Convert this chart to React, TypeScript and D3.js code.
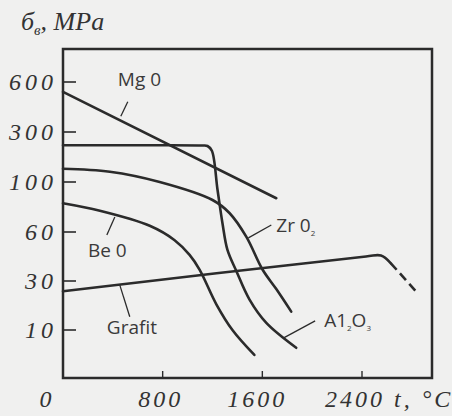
import React from "react";
import * as d3 from "d3";

// ---- data (temperature °C, strength MPa) ----
const yTickValues = [10, 30, 60, 100, 300, 600];
const xTickValues = [0, 800, 1600, 2400];

const mgO: [number, number][] = [[0, 541], [1712, 87]];
const al2o3: [number, number][] = [
  [0, 247], [600, 247], [1120, 246], [1160, 244], [1195, 225], [1240, 94], [1280, 67], [1320, 49],
  [1392, 36], [1496, 22.5], [1632, 12.9], [1872, 6.3],
];
const zrO2: [number, number][] = [
  [0, 153], [376, 141], [776, 100], [1200, 85.6], [1336, 75.2], [1472, 57],
  [1600, 37.2], [1712, 26.7], [1832, 17.5],
];
const beO: [number, number][] = [
  [0, 83], [296, 77], [696, 65], [896, 55], [1016, 46], [1096, 37],
  [1232, 20.4], [1360, 10], [1536, 4.8],
];
const grafitSolid: [number, number][] = [[0, 25.8], [2432, 45], [2552, 45.6], [2630, 41]];
const grafitDashed: [number, number][] = [[2630, 41], [2832, 25.8]];

// annotations: label text anchor and leader line (data coords)
const annotations = [
  { name: "Mg 0", sub: [] as string[], at: [440, 576], from: [520, 482], to: [464, 394] },
  { name: "Be 0", sub: [], at: [200, 44.4], from: [352, 58.2], to: [416, 72] },
  { name: "Grafit", sub: [], at: [352, 9.2], from: [456, 28.3], to: [536, 15.4] },
  { name: "Zr 0", sub: ["2"], at: [1712, 60], from: [1672, 65.6], to: [1488, 56.4] },
  { name: "A1", sub: ["2", "O", "3"], at: [2096, 11.25], from: [2024, 13.75], to: [1768, 8.3] },
];

const W = 452, H = 416;
const frame = { left: 63, right: 432, top: 49, bottom: 378 };

const xScale = d3.scaleLinear().domain([0, 2400]).range([63, 362]);
const yScale = d3
  .scaleLinear()
  .domain([0, ...yTickValues])
  .range([378, 330, 281, 232, 182, 132, 82]);

const line = d3
  .line<[number, number]>()
  .x((d) => xScale(d[0]))
  .y((d) => yScale(d[1]))
  .curve(d3.curveCatmullRom.alpha(0.5));

const ink = "#2b2b2b";
const serif = "'Liberation Serif', 'DejaVu Serif', serif";
const sans = "'Open Sans', 'Noto Sans', sans-serif";

export default function App() {
  const curves = [mgO, al2o3, zrO2, beO, grafitSolid];
  return (
    <svg
      width={W}
      height={H}
      style={{ position: "absolute", left: 0, top: 0, background: "#f0f0ef" }}
    >
      <rect x={0} y={0} width={W} height={H} fill="#f0f0ef" />
      {/* title */}
      <text x={21} y={30} fontFamily={serif} fontStyle="italic" fontSize={26} fill="#333">
        б
        <tspan dy={5} fontSize={15}>в</tspan>
        <tspan dy={-5}>, MPa</tspan>
      </text>

      {/* frame */}
      <rect
        x={frame.left}
        y={frame.top}
        width={frame.right - frame.left}
        height={frame.bottom - frame.top}
        fill="none"
        stroke={ink}
        strokeWidth={2.5}
      />

      {/* y ticks */}
      {yTickValues.map((v) => (
        <g key={v}>
          <line x1={frame.left} x2={frame.left + 13} y1={yScale(v)} y2={yScale(v)} stroke={ink} strokeWidth={1.6} />
          <text
            x={57}
            y={yScale(v) + 8}
            textAnchor="end"
            fontFamily={serif}
            fontStyle="italic"
            fontSize={24}
            letterSpacing={4}
            fill="#333"
          >
            {v}
          </text>
        </g>
      ))}

      {/* x ticks */}
      {xTickValues.map((v) => (
        <g key={v}>
          {v > 0 && (
            <line x1={xScale(v)} x2={xScale(v)} y1={frame.bottom - 7} y2={frame.bottom} stroke={ink} strokeWidth={1.4} />
          )}
          <text
            x={v === 2400 ? xScale(v) - 37 : xScale(v) - (v === 0 ? 16 : v === 800 ? 2 : 5)}
            y={407}
            textAnchor={v === 2400 ? "start" : "middle"}
            fontFamily={serif}
            fontStyle="italic"
            fontSize={24}
            letterSpacing={3}
            fill="#333"
          >
            {v === 2400 ? `${v} t, °C` : v}
          </text>
        </g>
      ))}

      {/* curves */}
      {curves.map((c, i) => (
        <path key={i} d={line(c) || ""} fill="none" stroke={ink} strokeWidth={2.6} strokeLinecap="round" />
      ))}
      <path d={line(grafitDashed) || ""} fill="none" stroke={ink} strokeWidth={2.6} strokeDasharray="9 5" />

      {/* annotations */}
      {annotations.map((a) => (
        <g key={a.name}>
          <line
            x1={xScale(a.from[0])}
            y1={yScale(a.from[1])}
            x2={xScale(a.to[0])}
            y2={yScale(a.to[1])}
            stroke={ink}
            strokeWidth={1.3}
          />
          <text x={xScale(a.at[0])} y={yScale(a.at[1])} fontFamily={sans} fontSize={19} fill="#3a3a3a">
            {a.name}
            {a.sub.map((s, j) =>
              s === "O" ? (
                <tspan key={j} dy={-4} fontSize={19}>O</tspan>
              ) : (
                <tspan key={j} dy={4} fontSize={8}>{s}</tspan>
              )
            )}
          </text>
        </g>
      ))}
    </svg>
  );
}
